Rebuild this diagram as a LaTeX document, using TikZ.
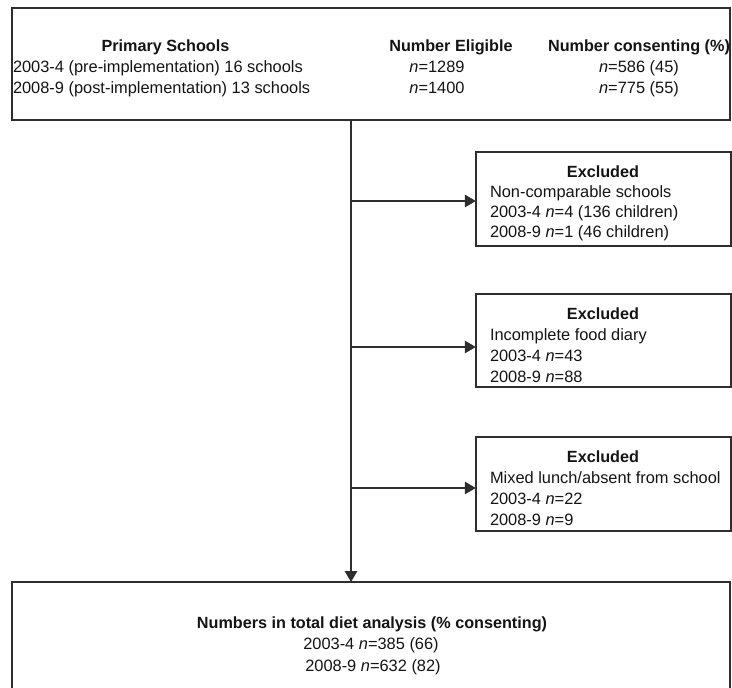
\documentclass[tikz,border=0pt]{standalone}
\usepackage{fontspec}
\setmainfont{Liberation Sans}
\usetikzlibrary{arrows.meta}
\definecolor{linec}{gray}{0.18}
\definecolor{textc}{gray}{0.08}
\tikzset{
  boxline/.style={draw=linec, line width=1.3pt},
  txt/.style={inner sep=0pt, outer sep=0pt, text=textc, font=\fontsize{16.4}{20}\selectfont, anchor=base},
  txtl/.style={txt, anchor=base west},
  hdr/.style={txt, font=\fontsize{16.2}{20}\selectfont\bfseries},
  conn/.style={draw=linec, line width=1.4pt, -{Triangle[length=11pt,width=12.5pt]}}
}
\begin{document}
\begin{tikzpicture}[x=1pt,y=-1pt]
\useasboundingbox (0,0) rectangle (732,688);
\clip (0,0) rectangle (732,688);
% boxes
\path[boxline] (12,8) rectangle (730,120);
\node[inner sep=0pt] (top) at (371,64) [minimum width=718pt, minimum height=112pt] {};
\path[boxline] (476,152) rectangle (731,246);
\node[inner sep=0pt] (ex1) at (603.5,199) [minimum width=255pt, minimum height=94pt] {};
\path[boxline] (476,294) rectangle (731,387);
\node[inner sep=0pt] (ex2) at (603.5,340.5) [minimum width=255pt, minimum height=93pt] {};
\path[boxline] (476,437) rectangle (731,531);
\node[inner sep=0pt] (ex3) at (603.5,484) [minimum width=255pt, minimum height=94pt] {};
\path[boxline] (12,582) rectangle (730,700);
\node[inner sep=0pt] (res) at (371,641) [minimum width=718pt, minimum height=118pt] {};

% top box texts
\node[hdr] (t1) at (165.5,52) {Primary Schools};
\node[txtl] (t2) at (13,72) {2003-4 (pre-implementation) 16 schools};
\node[txtl] (t3) at (13,93) {2008-9 (post-implementation) 13 schools};
\node[hdr] (t4) at (451,52) {Number Eligible};
\node[txt] (t5) at (437,72) {\textit{n}=1289};
\node[txt] (t6) at (437,93) {\textit{n}=1400};
\node[hdr] (t7) at (639,52) {Number consenting (\%)};
\node[txt] (t8) at (639,72) {\textit{n}=586 (45)};
\node[txt] (t9) at (639,93) {\textit{n}=775 (55)};

% excluded 1
\node[hdr] (a1) at (603,177) {Excluded};
\node[txtl] (a2) at (490,197) {Non-comparable schools};
\node[txtl] (a3) at (490,217) {2003-4 \textit{n}=4 (136 children)};
\node[txtl] (a4) at (490,237) {2008-9 \textit{n}=1 (46 children)};

% excluded 2
\node[hdr] (b1) at (603,319) {Excluded};
\node[txtl] (b2) at (490,340) {Incomplete food diary};
\node[txtl] (b3) at (490,361) {2003-4 \textit{n}=43};
\node[txtl] (b4) at (490,382) {2008-9 \textit{n}=88};

% excluded 3
\node[hdr] (c1) at (603,462) {Excluded};
\node[txtl] (c2) at (490,483) {Mixed lunch/absent from school};
\node[txtl] (c3) at (490,504) {2003-4 \textit{n}=22};
\node[txtl] (c4) at (490,525) {2008-9 \textit{n}=9};

% result box
\node[hdr] (r1) at (372,628) {Numbers in total diet analysis (\% consenting)};
\node[txt] (r2) at (371,649) {2003-4 \textit{n}=385 (66)};
\node[txt] (r3) at (373,671) {2008-9 \textit{n}=632 (82)};

% connectors
\coordinate (s) at (351,120);
\coordinate (e) at (351,582);
\coordinate (j1) at (351,201);
\coordinate (j2) at (351,347);
\coordinate (j3) at (351,488);
\draw[conn] (s) -- (e);
\draw[conn] (j1) -- (j1 -| ex1.west);
\draw[conn] (j2) -- (j2 -| ex2.west);
\draw[conn] (j3) -- (j3 -| ex3.west);
\end{tikzpicture}
\end{document}
